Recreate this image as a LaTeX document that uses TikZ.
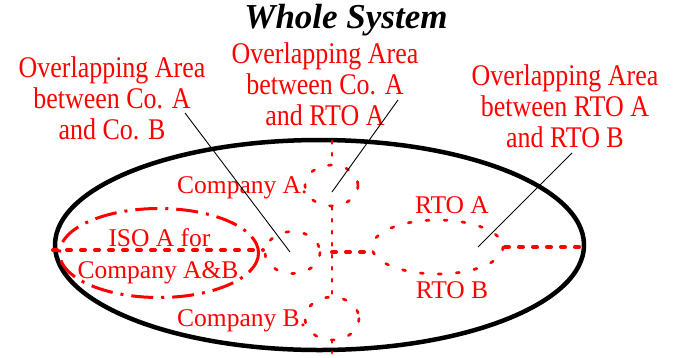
\documentclass[tikz,border=0pt]{standalone}
\usepackage{fontspec}
\setmainfont{Liberation Serif}
\newfontfamily\narrowserif[FakeStretch=0.865]{Liberation Serif}
\begin{document}
\begin{tikzpicture}[x=1pt,y=-1pt,
  ovl/.style={text=red, font=\narrowserif\fontsize{30}{31}\selectfont, align=center, anchor=base, inner sep=0pt},
  lbl/.style={text=red, font=\fontsize{25.5}{28}\selectfont, anchor=base, inner sep=0pt},
  leader/.style={line width=0.9pt},
  smalldash/.style={red, line width=2.7pt, line cap=round, dash pattern=on 3pt off 15pt},
  vdash/.style={red, line width=2.6pt, line cap=round, dash pattern=on 2.5pt off 9.5pt},
  thickdot/.style={red, line width=4pt, line cap=round, dash pattern=on 4pt off 10pt},
  isodash/.style={red, line width=3pt, dash pattern=on 22pt off 8pt on 3pt off 8pt}]
\useasboundingbox (0,0) rectangle (675,357);

% title
\node[font=\bfseries\itshape\fontsize{35}{40}\selectfont, anchor=base, inner sep=0pt] (title) at (346,28) {Whole System};

% whole system
\draw[line width=4.5pt] (319.5,245) ellipse [x radius=264.5, y radius=105];

% ISO ellipse
\draw[isodash] (159,253) ellipse [x radius=99.5, y radius=44.5];

% small ellipses
\draw[smalldash] (331.5,185.5) ellipse [x radius=26.5, y radius=20.5];
\draw[smalldash] (332,318.5) ellipse [x radius=27, y radius=21.5];
\draw[smalldash] (292.5,252.5) ellipse [x radius=27.5, y radius=21];
\draw[smalldash] (437.5,247) ellipse [x radius=65.5, y radius=27];

% vertical boundary
\coordinate (v1) at (332,141);
\coordinate (v2) at (332,165);
\coordinate (v3) at (332,207);
\coordinate (v4) at (332,297);
\coordinate (v5) at (332,340);
\coordinate (v6) at (332,353);
\draw[vdash] (v1) -- (v2);
\draw[vdash] (v3) -- (v4);
\draw[vdash] (v5) -- (v6);

% horizontal boundaries
\coordinate (h1) at (53,250);
\coordinate (h2) at (263,250);
\coordinate (h3) at (332,252);
\coordinate (h4) at (373,252);
\coordinate (h5) at (505,247);
\coordinate (h6) at (585,247);
\draw[thickdot] (h1) -- (h2);
\draw[thickdot] (h3) -- (h4);
\draw[thickdot] (h5) -- (h6);

% labels
\node[lbl, anchor=base west] (coA) at (177,193) {Company A.};
\node[lbl, anchor=base west] (coB) at (177,326) {Company B.};
\node[lbl] (iso1) at (159.5,246) {ISO A for};
\node[lbl] (iso2) at (158,278) {Company A\&B};
\node[lbl] (rtoA) at (452,213) {RTO A};
\node[lbl] (rtoB) at (452,298) {RTO B};

\node[ovl] (ovAB) at (112,139) {Overlapping Area\\between Co. A\\and Co. B};
\node[ovl] (ovAR) at (325,125) {Overlapping Area\\between Co. A\\and RTO A};
\node[ovl] (ovRR) at (565,147) {Overlapping Area\\between RTO A\\and RTO B};

% leaders
\coordinate (l1s) at (185,113);
\coordinate (l1e) at (290,252);
\coordinate (l2s) at (398,100);
\coordinate (l2e) at (332,192);
\coordinate (l3s) at (572,153);
\coordinate (l3e) at (478,247);
\draw[leader] (l1s) -- (l1e);
\draw[leader] (l2s) -- (l2e);
\draw[leader] (l3s) -- (l3e);
\end{tikzpicture}
\end{document}
